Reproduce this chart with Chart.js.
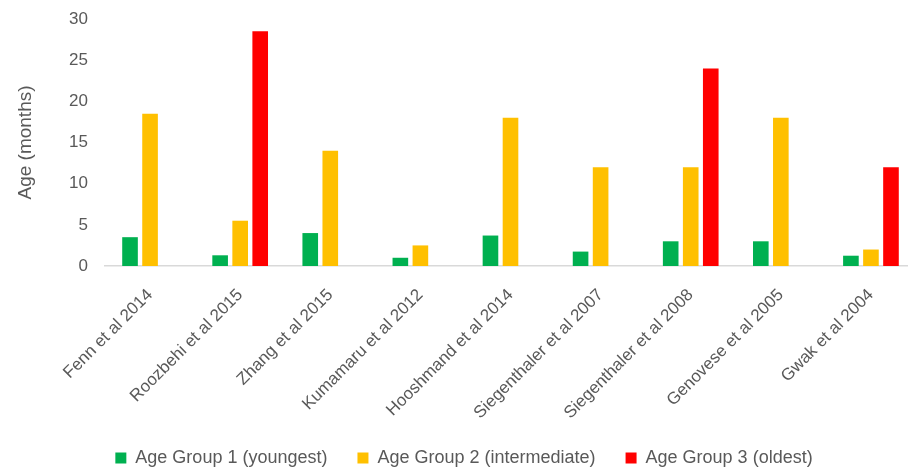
<!DOCTYPE html>
<html>
<head>
<meta charset="utf-8">
<script src="https://cdn.jsdelivr.net/npm/chart.js@4/dist/chart.umd.min.js"></script>
<style>
  html, body { margin: 0; padding: 0; background: #fff; overflow: hidden; }
  #wrap { width: 916px; height: 477px; }
</style>
</head>
<body>
<div id="wrap"><canvas id="c" width="916" height="477"></canvas></div>
<script>
const studies = [
  "Fenn et al 2014", "Roozbehi et al 2015", "Zhang et al 2015", "Kumamaru et al 2012",
  "Hooshmand et al 2014", "Siegenthaler et al 2007", "Siegenthaler et al 2008",
  "Genovese et al 2005", "Gwak et al 2004"
];
const youngest     = [3.5, 1.3, 4, 1, 3.7, 1.75, 3, 3, 1.25];
const intermediate = [18.5, 5.5, 14, 2.5, 18, 12, 12, 18, 2];
const oldest       = [null, 28.5, null, null, null, null, 24, null, 12];
const yTicks = [0, 5, 10, 15, 20, 25, 30];

const FONT = "'Liberation Sans', Arial, sans-serif";
const GREY = "#595959";

new Chart(document.getElementById("c"), {
  type: "bar",
  data: {
    labels: studies,
    datasets: [
      { label: "Age Group 1 (youngest)", data: youngest, backgroundColor: "#00b050" },
      { label: "Age Group 2 (intermediate)", data: intermediate, backgroundColor: "#ffc000" },
      { label: "Age Group 3 (oldest)", data: oldest, backgroundColor: "#ff0000" }
    ]
  },
  options: {
    responsive: false,
    animation: false,
    devicePixelRatio: 1,
    categoryPercentage: 0.667,
    barPercentage: 0.78,
    layout: { padding: { top: 19, left: 12, right: 0, bottom: 0 } },
    plugins: {
      legend: {
        position: "bottom",
        labels: {
          font: { family: FONT, size: 18 },
          color: GREY,
          boxWidth: 11,
          boxHeight: 11,
          padding: 30
        }
      },
      tooltip: { enabled: false }
    },
    scales: {
      x: {
        afterFit: (axis) => { axis.height = 153; axis.paddingTop = 0; },
        grid: { display: false, drawTicks: false },
        border: { color: "#d9d9d9", width: 1.5 },
        ticks: {
          font: { family: FONT, size: 17 },
          color: GREY,
          minRotation: 45,
          maxRotation: 45,
          padding: 19,
          autoSkip: false
        }
      },
      y: {
        min: 0,
        max: 30,
        afterBuildTicks: (axis) => { axis.ticks = yTicks.map(v => ({ value: v })); },
        afterFit: (axis) => { axis.width = 93; axis.paddingTop = 0; axis.paddingBottom = 0; },
        grid: { display: false, drawTicks: false },
        border: { display: false },
        ticks: {
          font: { family: FONT, size: 17 },
          color: GREY,
          padding: 17
        },
        title: {
          display: true,
          text: "Age (months)",
          font: { family: FONT, size: 19 },
          color: GREY,
          padding: { top: 2, bottom: 0 }
        }
      }
    }
  }
});
</script>
</body>
</html>
